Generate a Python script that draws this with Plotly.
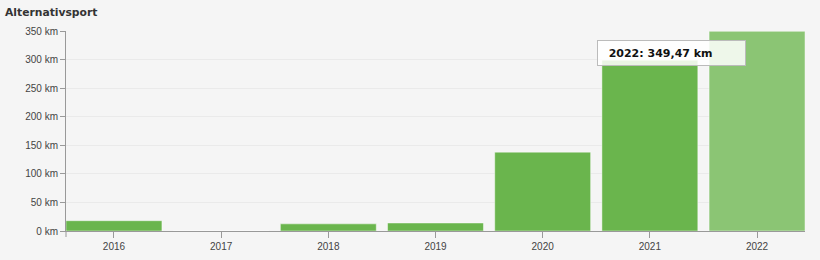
import plotly.graph_objects as go

years = ["2016", "2017", "2018", "2019", "2020", "2021", "2022"]
km = [18.0, 0.0, 12.5, 14.0, 138.0, 299.0, 349.47]
hovered = "2022"
title = "Alternativsport"
tooltip = "2022: 349,47 km"

base_color = "#6ab54d"
hover_color = "#8bc574"
colors = [hover_color if y == hovered else base_color for y in years]

fig = go.Figure()
fig.add_trace(go.Bar(
    x=years, y=km,
    marker=dict(color=colors, line=dict(color="rgba(255,255,255,0.45)", width=1)),
    hoverinfo="skip",
))

W, H = 820, 260
ml, mr, mt, mb = 66, 15, 31, 29
pw = W - ml - mr
ph = H - mt - mb
gap = 0.105
pad = gap / 2

fig.update_layout(
    width=W, height=H,
    margin=dict(l=ml, r=mr, t=mt, b=mb),
    paper_bgcolor="#f5f5f5", plot_bgcolor="#f5f5f5",
    bargap=gap,
    showlegend=False,
    font=dict(family="Liberation Sans, Arial, sans-serif", size=10, color="#444"),
    xaxis=dict(
        type="category", showgrid=False, zeroline=False, automargin=False,
        showline=True, linecolor="#999", linewidth=1,
        ticks="outside", ticklen=6, tickcolor="#999",
        tickfont=dict(size=10, color="#444"),
        range=[-0.5 + pad, len(years) - 0.5 - pad],
    ),
    yaxis=dict(
        range=[0, 350], dtick=50, ticksuffix=" km", automargin=False,
        showgrid=True, gridcolor="#eaeaea", gridwidth=1,
        zeroline=False, showline=True, linecolor="#999", linewidth=1,
        ticks="outside", ticklen=5, tickcolor="#999",
        tickfont=dict(size=10, color="#444"),
    ),
    annotations=[
        dict(text="<b>" + title + "</b>", xref="paper", yref="paper",
             x=-ml / pw + 3 / pw, y=1 + (mt - 12) / ph, xanchor="left", yanchor="middle",
             showarrow=False, font=dict(family="DejaVu Sans, Verdana, sans-serif", size=10.75, color="#333")),
        dict(text="<b>&nbsp;&nbsp;" + tooltip + "</b>", xref="paper", yref="paper",
             x=(597 - ml) / pw, y=1 - (40 - mt) / ph, xanchor="left", yanchor="top",
             showarrow=False, align="left",
             width=141, height=18, borderpad=3,
             bgcolor="rgba(255,255,255,0.85)", bordercolor="#bbbbbb", borderwidth=1,
             font=dict(family="DejaVu Sans, Verdana, sans-serif", size=11, color="#111")),
    ],
    shapes=[
        dict(type="line", xref="x", yref="paper", x0=hovered, x1=hovered, y0=0, y1=1,
             line=dict(color="#999", width=1)),
        dict(type="line", xref="paper", yref="paper", x0=0, x1=0, y0=0, y1=-6 / ph,
             line=dict(color="#999", width=1)),
    ],
)

fig.write_html("out.html")
